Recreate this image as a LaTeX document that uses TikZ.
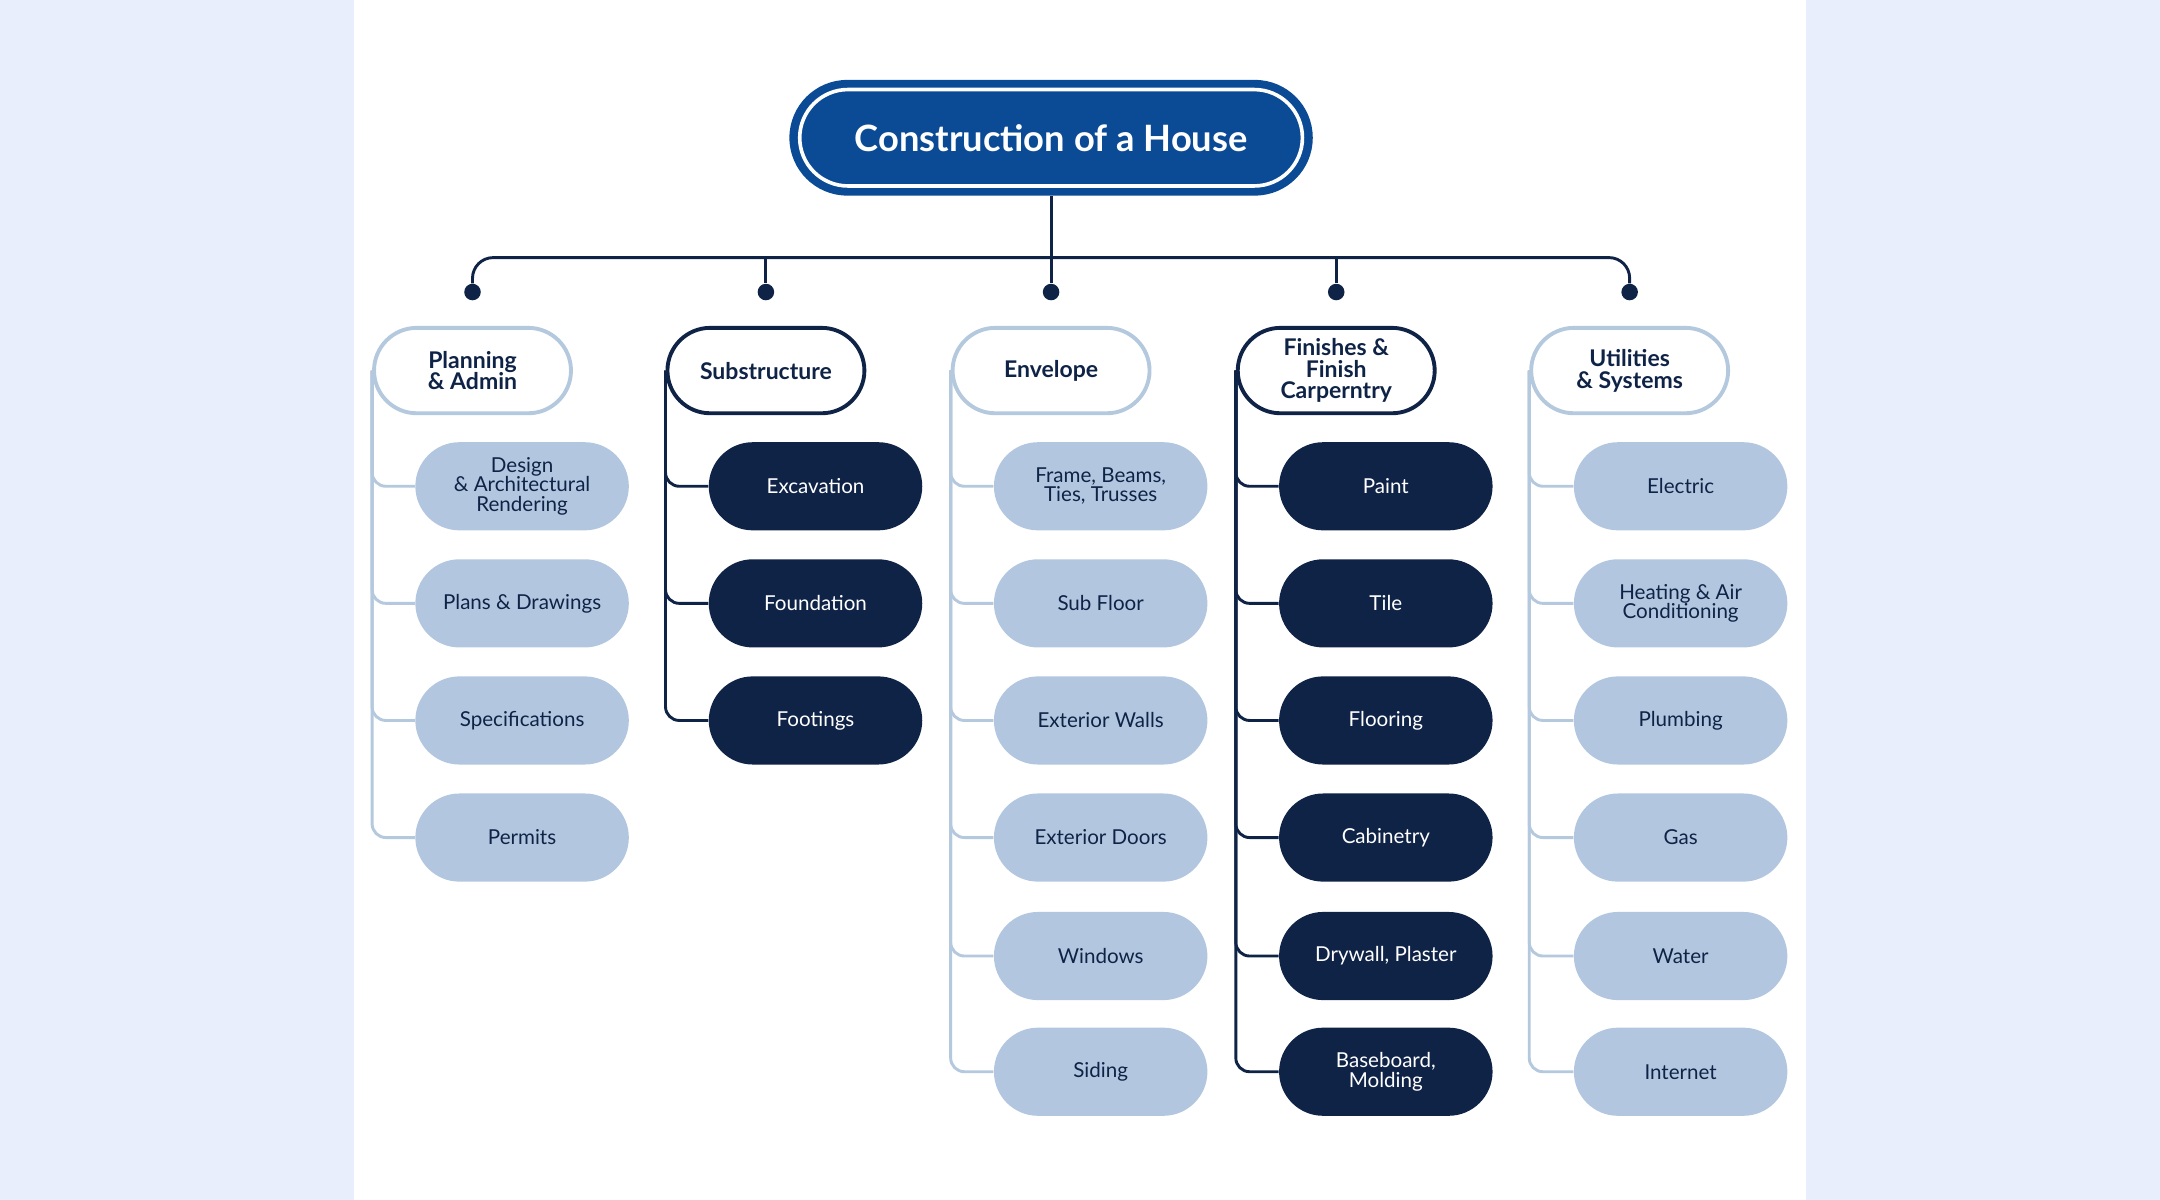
\documentclass[tikz,border=0pt]{standalone}
\usepackage{fontspec}
\setmainfont{Lato}
\definecolor{bgblue}{HTML}{E8EEFB}
\definecolor{titleblue}{HTML}{0B4A94}
\definecolor{navy}{HTML}{0F2347}
\definecolor{light}{HTML}{B2C7DF}
\definecolor{lightline}{HTML}{B4C8DE}
\begin{document}
\begin{tikzpicture}[x=0.02cm,y=-0.02cm,
  hdr/.style={draw=#1,fill=white,line width=1.6pt,minimum width=2.86cm,minimum height=1.24cm,rounded corners=0.62cm,align=center,text=navy,font=\fontsize{9.5}{9}\selectfont\bfseries},
  cl/.style={fill=light,text=navy,minimum width=3.1cm,minimum height=1.28cm,rounded corners=0.64cm,align=center,font=\fontsize{8.5}{8}\selectfont},
  cd/.style={fill=navy,text=white,minimum width=3.1cm,minimum height=1.28cm,rounded corners=0.64cm,align=center,font=\fontsize{8.5}{8}\selectfont},
  spine/.style={draw=#1,line width=1.2pt,rounded corners=0.2cm},
  dot/.style={circle,fill=navy,inner sep=0pt,minimum size=0.24cm}]
\fill[bgblue] (0,0) rectangle (1568,871);
\fill[white] (257,0) rectangle (1311,871);
\useasboundingbox (0,0) rectangle (1568,871);
% title
\node[fill=titleblue,minimum width=7.6cm,minimum height=1.68cm,rounded corners=0.84cm] (tbg) at (763,100) {};
\node[draw=white,line width=1.5pt,minimum width=7.3cm,minimum height=1.4cm,rounded corners=0.7cm,text=white,font=\fontsize{15}{15}\selectfont\bfseries] (title) at (763,100) {Construction of a House};
% dots
\foreach \n/\x in {d1/343,d2/556,d3/763,d4/970,d5/1183} \node[dot] (\n) at (\x,212) {};
\coordinate (bar) at (763,187);
\draw[navy,line width=1.2pt] (tbg.south) -- (d3);
\draw[navy,line width=1.2pt,rounded corners=0.3cm] (d1) |- (bar) -| (d5);
\draw[navy,line width=1.2pt] (d2|-bar) -- (d2);
\draw[navy,line width=1.2pt] (d4|-bar) -- (d4);
% headers
\node[hdr=lightline] (h1) at (343,269) {Planning\\\& Admin};
\node[hdr=navy] (h2) at (556,269) {Substructure};
\node[hdr=lightline] (h3) at (763,269) {Envelope};
\node[hdr=navy] (h4) at (970,269) {Finishes \&\\Finish\\Carperntry};
\node[hdr=lightline] (h5) at (1183,269) {Utilities\\\& Systems};
% column 1
\node[cl] (a1) at (379,353) {Design\\\& Architectural\\Rendering};
\node[cl] (a2) at (379,438) {Plans \& Drawings};
\node[cl] (a3) at (379,523) {Specifications};
\node[cl] (a4) at (379,608) {Permits};
\foreach \c in {a1,a2,a3,a4} \draw[spine=lightline] (h1.west) |- (\c.west);
% column 2
\node[cd] (b1) at (592,353) {Excavation};
\node[cd] (b2) at (592,438) {Foundation};
\node[cd] (b3) at (592,523) {Footings};
\foreach \c in {b1,b2,b3} \draw[spine=navy] (h2.west) |- (\c.west);
% column 3
\node[cl] (e1) at (799,353) {Frame, Beams,\\Ties, Trusses};
\node[cl] (e2) at (799,438) {Sub Floor};
\node[cl] (e3) at (799,523) {Exterior Walls};
\node[cl] (e4) at (799,608) {Exterior Doors};
\node[cl] (e5) at (799,694) {Windows};
\node[cl] (e6) at (799,778) {Siding};
\foreach \c in {e1,e2,e3,e4,e5,e6} \draw[spine=lightline] (h3.west) |- (\c.west);
% column 4
\node[cd] (f1) at (1006,353) {Paint};
\node[cd] (f2) at (1006,438) {Tile};
\node[cd] (f3) at (1006,523) {Flooring};
\node[cd] (f4) at (1006,608) {Cabinetry};
\node[cd] (f5) at (1006,694) {Drywall, Plaster};
\node[cd] (f6) at (1006,778) {Baseboard,\\Molding};
\foreach \c in {f1,f2,f3,f4,f5,f6} \draw[spine=navy] (h4.west) |- (\c.west);
% column 5
\node[cl] (u1) at (1220,353) {Electric};
\node[cl] (u2) at (1220,438) {Heating \& Air\\Conditioning};
\node[cl] (u3) at (1220,523) {Plumbing};
\node[cl] (u4) at (1220,608) {Gas};
\node[cl] (u5) at (1220,694) {Water};
\node[cl] (u6) at (1220,778) {Internet};
\foreach \c in {u1,u2,u3,u4,u5,u6} \draw[spine=lightline] (h5.west) |- (\c.west);
% redraw headers over spines
\end{tikzpicture}
\end{document}
